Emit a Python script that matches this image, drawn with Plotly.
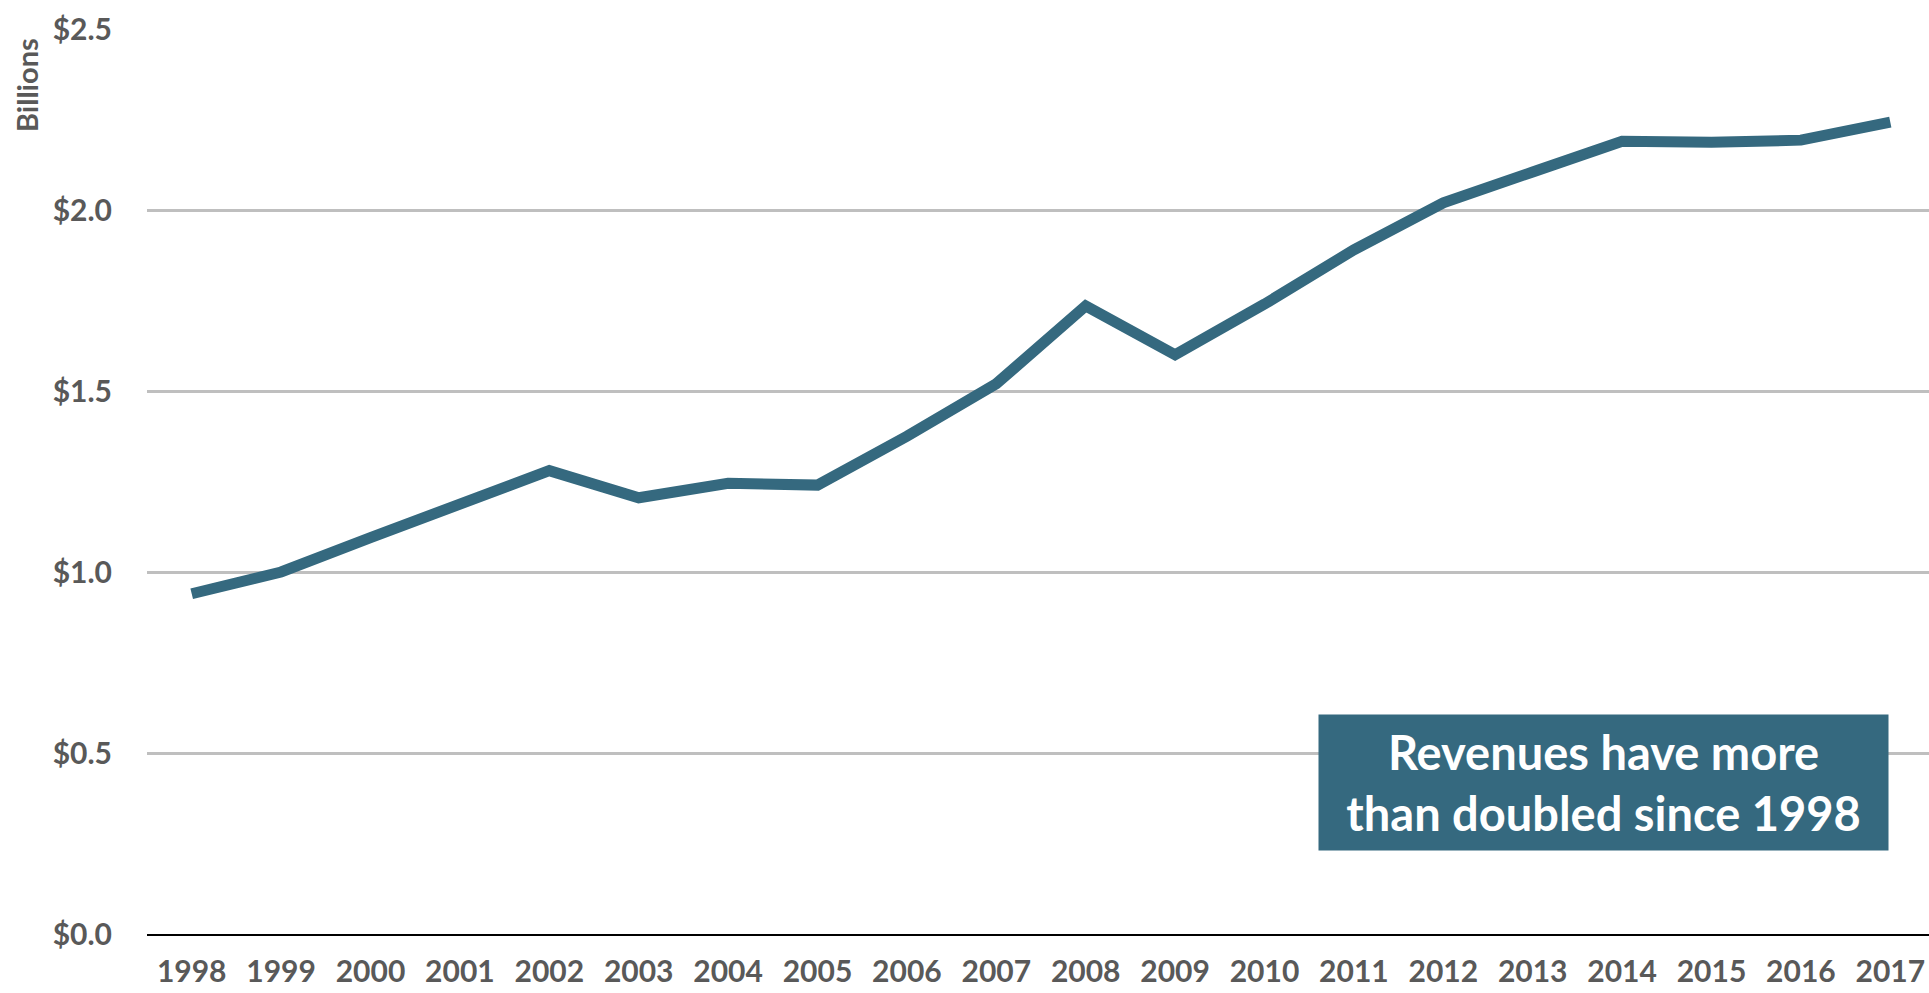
import plotly.graph_objects as go

years = [str(y) for y in range(1998, 2018)]
revenue_billions = [0.94, 1.00, 1.095, 1.185, 1.28, 1.205, 1.245, 1.24, 1.375, 1.52,
                    1.735, 1.60, 1.74, 1.89, 2.02, 2.105, 2.19, 2.187, 2.193, 2.243]
y_tickvals = [0.0, 0.5, 1.0, 1.5, 2.0, 2.5]
y_ticktext = ["$0.0", "$0.5", "$1.0", "$1.5", "$2.0", "$2.5"]
callout_text = "Revenues have more<br>than doubled since 1998"
y_title = "Billions"

LINE = "#35697F"
GREY = "#595959"
FONT = "Lato"

W, H = 1929, 993
L, R, T, B = 147, 0, 29, 59

fig = go.Figure()
fig.add_trace(go.Scatter(
    x=years, y=revenue_billions, mode="lines",
    line=dict(color=LINE, width=11),
    hoverinfo="skip", showlegend=False,
))

plot_w = W - L - R
band = 89.4
x_hi = -0.5 + plot_w / band

fig.update_layout(
    width=W, height=H,
    margin=dict(l=L, r=R, t=T, b=B, pad=0, autoexpand=False),
    paper_bgcolor="white", plot_bgcolor="white",
    font=dict(family=FONT, color=GREY),
    xaxis=dict(
        type="category", range=[-0.5, x_hi], automargin=False,
        showgrid=False, zeroline=False,
        showline=True, linecolor="black", linewidth=2,
        ticks="", tickfont=dict(family=FONT, size=30, color=GREY, weight="bold"),
        ticklabelstandoff=10,
    ),
    yaxis=dict(
        range=[0, 2.5], tickvals=y_tickvals, ticktext=y_ticktext, automargin=False,
        showgrid=True, gridcolor="#BFBFBF", gridwidth=2.5,
        zeroline=False, showline=False, ticks="",
        tickfont=dict(family=FONT, size=30, color=GREY, weight="bold"),
        ticklabelstandoff=34,
    ),
    annotations=[
        dict(
            text=callout_text, xref="paper", yref="paper",
            x=(1603.5 - L) / plot_w, y=(934 - 782.5) / (934 - 29),
            xanchor="center", yanchor="middle", showarrow=False,
            width=569, height=135, bgcolor=LINE, borderpad=0,
            align="center",
            font=dict(family=FONT, size=47, color="white", weight="bold"),
        ),
        dict(
            text=y_title, xref="paper", yref="paper",
            x=(27 - L) / plot_w, y=(934 - 85) / (934 - 29),
            xanchor="center", yanchor="middle", showarrow=False,
            textangle=-90,
            font=dict(family=FONT, size=29, color=GREY, weight="bold"),
        ),
    ],
)

fig.write_html(
    "out.html",
    config={"displayModeBar": False},
    post_script="document.body.style.margin='0px';document.body.style.overflow='hidden';",
)
